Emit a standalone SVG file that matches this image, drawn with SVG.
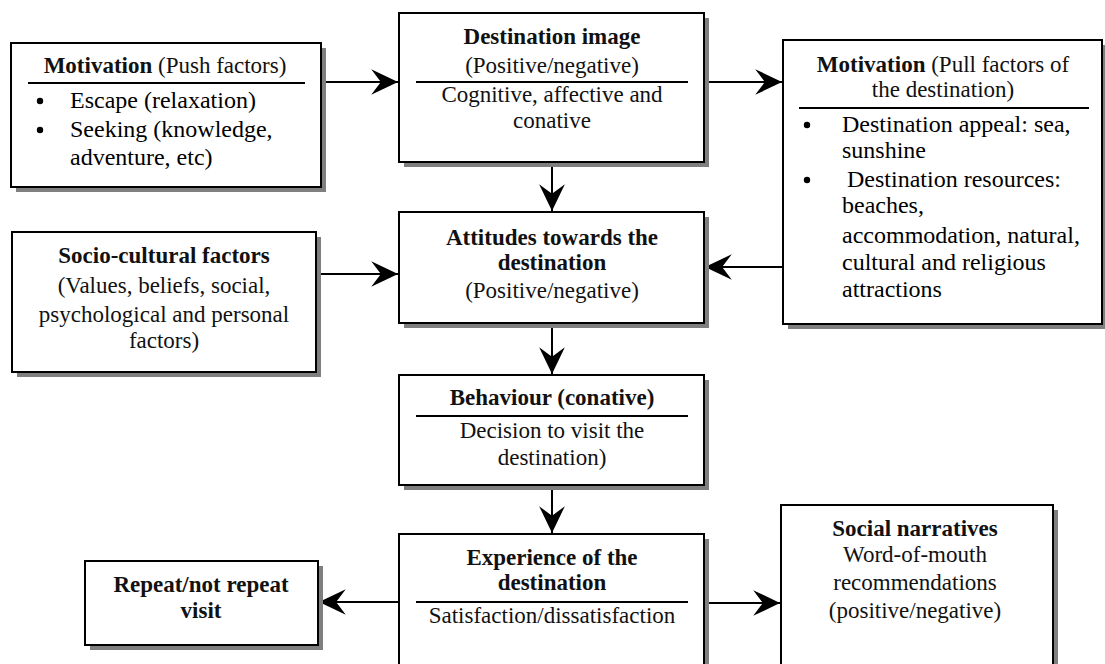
<svg xmlns="http://www.w3.org/2000/svg" width="1105" height="664" viewBox="0 0 1105 664">
<style>
.box{fill:#fff;stroke:#000;stroke-width:2}
.sh{fill:#7f7f7f}
.t{font-size:23px;fill:#111}
.l{font-size:24px;fill:#000}
.c{text-anchor:middle}
.b{font-weight:bold}
.rule{stroke:#000;stroke-width:2}
.con{stroke:#000;stroke-width:2;fill:none;marker-end:url(#ah)}
</style>
<defs>
<marker id="ah" markerUnits="userSpaceOnUse" markerWidth="30" markerHeight="30" viewBox="-26 -13 28 26" refX="0" refY="0" orient="auto">
<path d="M0,0 L-25,-12 L-16,0 L-25,12 Z" fill="#000"/>
</marker>
</defs>
<rect width="1105" height="664" fill="#fff"/>
<g id="connectors">
<line class="con" x1="321" y1="82" x2="398" y2="82"/>
<line class="con" x1="704" y1="82" x2="782" y2="82"/>
<line class="con" x1="552" y1="163" x2="552" y2="211"/>
<line class="con" x1="317" y1="274" x2="398" y2="274"/>
<line class="con" x1="783" y1="267" x2="705" y2="267"/>
<line class="con" x1="552" y1="324" x2="552" y2="374"/>
<line class="con" x1="552" y1="486" x2="552" y2="533"/>
<line class="con" x1="399" y1="602" x2="319" y2="602"/>
<line class="con" x1="704" y1="603" x2="780" y2="603"/>
</g>
<g id="push">
<rect class="sh" x="16" y="48" width="310" height="144"/>
<rect class="box" x="11" y="43" width="310" height="144"/>
<text font-family="Liberation Serif" class="t c" x="165" y="73"><tspan class="b">Motivation</tspan> (Push factors)</text>
<line class="rule" x1="28" y1="83" x2="305" y2="83"/>
<circle cx="40" cy="101" r="3.2"/>
<text font-family="Liberation Serif" class="l" x="70" y="108">Escape (relaxation)</text>
<circle cx="40" cy="130" r="3.2"/>
<text font-family="Liberation Serif" class="l" x="70" y="137">Seeking (knowledge,</text>
<text font-family="Liberation Serif" class="l" x="70" y="165">adventure, etc)</text>
</g>
<g id="image">
<rect class="sh" x="404" y="18" width="305" height="149"/>
<rect class="box" x="399" y="13" width="305" height="149"/>
<text font-family="Liberation Serif" class="t c b" x="552" y="44">Destination image</text>
<text font-family="Liberation Serif" class="t c" x="552" y="73">(Positive/negative)</text>
<line class="rule" x1="416" y1="82" x2="688" y2="82"/>
<text font-family="Liberation Serif" class="t c" x="552" y="102">Cognitive, affective and</text>
<text font-family="Liberation Serif" class="t c" x="552" y="128">conative</text>
</g>
<g id="pull">
<rect class="sh" x="788" y="45" width="319" height="284"/>
<rect class="box" x="783" y="40" width="319" height="284"/>
<text font-family="Liberation Serif" class="t c" x="943" y="72"><tspan class="b">Motivation</tspan> (Pull factors of</text>
<text font-family="Liberation Serif" class="t c" x="943" y="97">the destination)</text>
<line class="rule" x1="799" y1="108" x2="1089" y2="108"/>
<circle cx="807" cy="125" r="3.2"/>
<text font-family="Liberation Serif" class="l" x="842" y="132">Destination appeal: sea,</text>
<text font-family="Liberation Serif" class="l" x="842" y="158">sunshine</text>
<circle cx="807" cy="180" r="3.2"/>
<text font-family="Liberation Serif" class="l" x="847" y="187">Destination resources:</text>
<text font-family="Liberation Serif" class="l" x="842" y="213">beaches,</text>
<text font-family="Liberation Serif" class="l" x="842" y="243">accommodation, natural,</text>
<text font-family="Liberation Serif" class="l" x="842" y="270">cultural and religious</text>
<text font-family="Liberation Serif" class="l" x="842" y="297">attractions</text>
</g>
<g id="socio">
<rect class="sh" x="17" y="237" width="304" height="140"/>
<rect class="box" x="12" y="232" width="304" height="140"/>
<text font-family="Liberation Serif" class="t c b" x="164" y="263">Socio-cultural factors</text>
<text font-family="Liberation Serif" class="t c" x="164" y="293">(Values, beliefs, social,</text>
<text font-family="Liberation Serif" class="t c" x="164" y="322">psychological and personal</text>
<text font-family="Liberation Serif" class="t c" x="164" y="348">factors)</text>
</g>
<g id="attitudes">
<rect class="sh" x="404" y="217" width="305" height="111"/>
<rect class="box" x="399" y="212" width="305" height="111"/>
<text font-family="Liberation Serif" class="t c b" x="552" y="245">Attitudes towards the</text>
<text font-family="Liberation Serif" class="t c b" x="552" y="270">destination</text>
<text font-family="Liberation Serif" class="t c" x="552" y="298">(Positive/negative)</text>
</g>
<g id="behaviour">
<rect class="sh" x="404" y="380" width="305" height="110"/>
<rect class="box" x="399" y="375" width="305" height="110"/>
<text font-family="Liberation Serif" class="t c b" x="552" y="405">Behaviour (conative)</text>
<line class="rule" x1="416" y1="416" x2="688" y2="416"/>
<text font-family="Liberation Serif" class="t c" x="552" y="438">Decision to visit the</text>
<text font-family="Liberation Serif" class="t c" x="552" y="465">destination)</text>
</g>
<g id="experience">
<rect class="sh" x="404" y="539" width="305" height="140"/>
<rect class="box" x="399" y="534" width="305" height="140"/>
<text font-family="Liberation Serif" class="t c b" x="552" y="565">Experience of the</text>
<text font-family="Liberation Serif" class="t c b" x="552" y="590">destination</text>
<line class="rule" x1="416" y1="602" x2="688" y2="602"/>
<text font-family="Liberation Serif" class="t c" x="552" y="623">Satisfaction/dissatisfaction</text>
</g>
<g id="repeat">
<rect class="sh" x="90" y="566" width="233" height="84"/>
<rect class="box" x="85" y="561" width="233" height="84"/>
<text font-family="Liberation Serif" class="t c b" x="201" y="592">Repeat/not repeat</text>
<text font-family="Liberation Serif" class="t c b" x="201" y="618">visit</text>
</g>
<g id="narratives">
<rect class="sh" x="786" y="510" width="272" height="170"/>
<rect class="box" x="781" y="505" width="272" height="170"/>
<text font-family="Liberation Serif" class="t c b" x="915" y="536">Social narratives</text>
<text font-family="Liberation Serif" class="t c" x="915" y="562">Word-of-mouth</text>
<text font-family="Liberation Serif" class="t c" x="915" y="590">recommendations</text>
<text font-family="Liberation Serif" class="t c" x="915" y="618">(positive/negative)</text>
</g>
</svg>
